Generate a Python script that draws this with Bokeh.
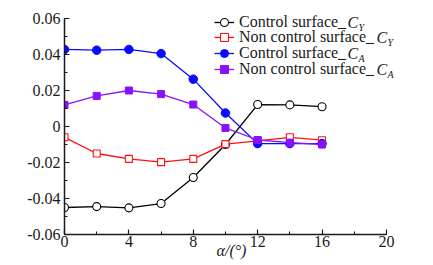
from bokeh.plotting import figure
from bokeh.models import (Range1d, FixedTicker, CustomJSTickFormatter, Legend,
                          LegendItem, Label)
from bokeh.embed import file_html
from bokeh.resources import INLINE

alpha = [0, 2, 4, 6, 8, 10, 12, 14, 16]
ctrl_cy = [-0.0450, -0.0445, -0.0452, -0.0428, -0.0283, -0.0100, 0.0122, 0.0120, 0.0110]
nonctrl_cy = [-0.0060, -0.0150, -0.0180, -0.0198, -0.0180, -0.0098, -0.0080, -0.0060, -0.0076]
ctrl_ca = [0.0428, 0.0424, 0.0428, 0.0405, 0.0263, 0.0075, -0.0095, -0.0095, -0.0095]
nonctrl_ca = [0.0120, 0.0170, 0.0200, 0.0180, 0.0122, -0.0008, -0.0075, -0.0090, -0.0100]

x_ticks = [0, 4, 8, 12, 16, 20]
x_minor = [0, 2, 4, 6, 8, 10, 12, 14, 16, 18, 20]
y_ticks = [-0.06, -0.04, -0.02, 0, 0.02, 0.04, 0.06]
y_minor = [-0.06, -0.05, -0.04, -0.03, -0.02, -0.01, 0, 0.01, 0.02, 0.03, 0.04, 0.05, 0.06]

FONT = "Liberation Serif"
INK = "#1a1a1a"

# frame spans the top so the legend is not clipped; axes are bounded to the data span
p = figure(width=433, height=265, output_backend="svg", toolbar_location=None,
           x_range=Range1d(0, 20.75), y_range=Range1d(-0.06, 0.07),
           min_border_left=64, min_border_right=35, min_border_top=0,
           min_border_bottom=31)
p.outline_line_color = None
p.xgrid.visible = False
p.ygrid.visible = False
p.background_fill_color = "white"
p.border_fill_color = "white"

for ax, ticks, minor, bnds in ((p.xaxis[0], x_ticks, x_minor, (0, 20)),
                               (p.yaxis[0], y_ticks, y_minor, (-0.06, 0.06))):
    ax.ticker = FixedTicker(ticks=ticks, minor_ticks=minor)
    ax.bounds = bnds
    ax.axis_line_color = INK
    ax.axis_line_width = 1.5
    ax.major_tick_in = 5
    ax.major_tick_out = 0
    ax.minor_tick_in = 3
    ax.minor_tick_out = 0
    ax.major_tick_line_color = INK
    ax.minor_tick_line_color = INK
    ax.major_tick_line_width = 1.2
    ax.minor_tick_line_width = 1.0
    ax.major_label_text_font = FONT
    ax.major_label_text_font_size = "16px"
    ax.major_label_text_color = INK

p.xaxis[0].major_label_standoff = 1
p.yaxis[0].major_label_standoff = 4
p.yaxis[0].formatter = CustomJSTickFormatter(
    code="return Math.abs(tick) < 1e-9 ? '0' : tick.toFixed(2);")
p.xaxis[0].axis_label = "α/(°)"
p.xaxis[0].axis_label_text_font = FONT
p.xaxis[0].axis_label_text_font_style = "italic"
p.xaxis[0].axis_label_text_font_size = "16px"
p.xaxis[0].axis_label_text_color = INK
p.xaxis[0].axis_label_standoff = -8

lw = 1.3
r1l = p.line(alpha, ctrl_cy, line_color="black", line_width=lw)
r1m = p.scatter(alpha, ctrl_cy, marker="circle", size=8, line_color="black",
                fill_color="white", line_width=1.1)
r2l = p.line(alpha, nonctrl_cy, line_color="#ff1010", line_width=lw)
r2m = p.scatter(alpha, nonctrl_cy, marker="square", size=7, line_color="#ff1010",
                fill_color="white", line_width=1.1)
r3l = p.line(alpha, ctrl_ca, line_color="#0a0aff", line_width=lw)
r3m = p.scatter(alpha, ctrl_ca, marker="circle", size=8.5, line_color="#0a0aff",
                fill_color="#0a0aff")
r4l = p.line(alpha, nonctrl_ca, line_color="#8a10ff", line_width=lw)
r4m = p.scatter(alpha, nonctrl_ca, marker="square", size=7, line_color="#8a10ff",
                fill_color="#8a10ff")

labels = ["Control surface_", "Non control surface_", "Control surface_", "Non control surface_"]
subs = ["Y", "Y", "A", "A"]
rends = [[r1l, r1m], [r2l, r2m], [r3l, r3m], [r4l, r4m]]

# one single-row legend per series, so the rows can sit 15.7 px apart
ROW_H = 20
row_cy = [21.5, 37.2, 52.9, 68.6]
c_x = [347, 376, 347, 376]
for i in range(4):
    lg = Legend(items=[LegendItem(label=labels[i], renderers=rends[i])],
                location=(150, 234 - row_cy[i] - ROW_H / 2), padding=0, spacing=0,
                margin=0, border_line_color=None, background_fill_alpha=0,
                glyph_width=20, glyph_height=ROW_H, label_height=ROW_H,
                label_standoff=5, label_text_font=FONT,
                label_text_font_size="16px", label_text_color=INK)
    p.add_layout(lg, "center")
    y = 234 - row_cy[i]
    p.add_layout(Label(x=c_x[i] - 64, y=y, x_units="screen", y_units="screen",
                       text="C", text_font=FONT, text_font_style="italic",
                       text_font_size="16px", text_baseline="middle",
                       text_color=INK))
    p.add_layout(Label(x=c_x[i] - 64 + 11, y=y - 5, x_units="screen", y_units="screen",
                       text=subs[i], text_font=FONT, text_font_style="italic",
                       text_font_size="10px", text_baseline="middle",
                       text_color=INK))

open("out.html", "w").write(file_html(p, INLINE))
